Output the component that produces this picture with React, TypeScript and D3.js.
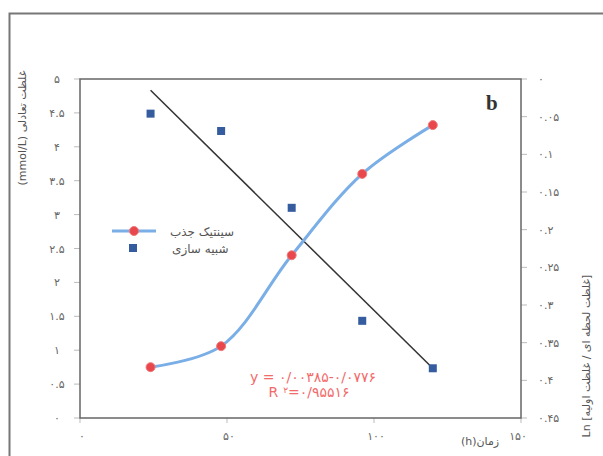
import * as d3 from "d3";

// sampling times (h)
const hours = [24, 48, 72, 96, 120];
// kinetic absorption (left axis, mmol/L)
const kinetic = [0.75, 1.06, 2.4, 3.6, 4.32];
// simulation points (right axis, Ln ratio)
const simulation = [0.046, 0.069, 0.171, 0.321, 0.384];
// fitted line end points (right axis)
const fitHours = [24, 120];
const fitValues = [0.015, 0.384];

const leftTicks = [0, 0.5, 1, 1.5, 2, 2.5, 3, 3.5, 4, 4.5, 5];
const rightTicks = [0, 0.05, 0.1, 0.15, 0.2, 0.25, 0.3, 0.35, 0.4, 0.45];
const xTicks = [0, 50, 100, 150];

const faDigits = "۰۱۲۳۴۵۶۷۸۹";
const fa = (v: number) =>
  String(+v.toFixed(2)).replace(/[0-9]/g, (c) => faDigits[+c]);

const W = 603;
const H = 456;
const plot = { left: 80, top: 79, right: 521, bottom: 418 };
const FONT = "'DejaVu Sans', sans-serif";

export default function App() {
  const x = d3.scaleLinear().domain([0, 150]).range([plot.left, plot.right]);
  const yL = d3.scaleLinear().domain([0, 5]).range([plot.bottom, plot.top]);
  const yR = d3.scaleLinear().domain([0, 0.45]).range([plot.top, plot.bottom]);

  const kinLine = d3
    .line<number>()
    .x((_, i) => x(hours[i]))
    .y((d) => yL(d))
    .curve(d3.curveCatmullRom.alpha(0.5));

  const fit = d3
    .line<number>()
    .x((_, i) => x(fitHours[i]))
    .y((d) => yR(d));

  return (
    <svg
      width={W}
      height={H}
      style={{ position: "absolute", left: 0, top: 0, background: "#fff" }}
      fontFamily={FONT}
    >
      {/* outer frame */}
      <rect x={9.5} y={13.5} width={W} height={H} fill="none" stroke="#777" strokeWidth={2} />

      {/* tick marks */}
      {leftTicks.map((t) => (
        <line key={"lt" + t} x1={plot.left - 6} x2={plot.left} y1={yL(t)} y2={yL(t)} stroke="#bbb" />
      ))}
      {rightTicks.map((t) => (
        <line key={"rt" + t} x1={plot.right} x2={plot.right + 6} y1={yR(t)} y2={yR(t)} stroke="#bbb" />
      ))}
      {xTicks.map((t) => (
        <line key={"xt" + t} x1={x(t)} x2={x(t)} y1={plot.bottom} y2={plot.bottom + 5} stroke="#bbb" />
      ))}

      {/* plot border */}
      <rect
        x={plot.left}
        y={plot.top}
        width={plot.right - plot.left}
        height={plot.bottom - plot.top}
        fill="none"
        stroke="#666"
        strokeWidth={1.5}
      />

      {/* tick labels */}
      {leftTicks.map((t) => (
        <text key={"ll" + t} x={57} y={yL(t) + 4} fontSize={11} fill="#666" textAnchor="middle" letterSpacing={1}>
          {fa(t)}
        </text>
      ))}
      {rightTicks.map((t) => (
        <text key={"rl" + t} x={538} y={yR(t) + 4} fontSize={11} fill="#666" letterSpacing={1.5}>
          {fa(t)}
        </text>
      ))}
      {xTicks.map((t) => (
        <text key={"xl" + t} x={x(t) + (t === 150 ? -3 : 2)} y={440} fontSize={11} fill="#666" textAnchor="middle" letterSpacing={1.5}>
          {fa(t)}
        </text>
      ))}

      {/* axis titles */}
      <text x={480} y={445} fontSize={11} fill="#555" textAnchor="middle">
        (h)زمان
      </text>
      <text
        transform="translate(26,128) rotate(-90)"
        fontSize={11}
        fill="#555"
        textAnchor="middle"
      >
        (mmol/L) غلظت تعادلی
      </text>
      <text
        transform="translate(590,356) rotate(-90)"
        fontSize={11}
        fill="#555"
        textAnchor="middle"
      >
        Ln [غلظت لحظه ای / غلظت اولیه]
      </text>

      {/* fit line */}
      <path d={fit(fitValues) ?? ""} fill="none" stroke="#333" strokeWidth={1.5} />

      {/* kinetic curve */}
      <path d={kinLine(kinetic) ?? ""} fill="none" stroke="#7aaee6" strokeWidth={3} />
      {kinetic.map((v, i) => (
        <circle key={"k" + i} cx={x(hours[i])} cy={yL(v)} r={4.5} fill="#e8474c" stroke="#f07a7c" strokeWidth={1} />
      ))}

      {/* simulation squares */}
      {simulation.map((v, i) => (
        <rect key={"s" + i} x={x(hours[i]) - 4} y={yR(v) - 4} width={8} height={8} fill="#345c9e" />
      ))}

      {/* legend */}
      <line x1={112} x2={156} y1={231} y2={231} stroke="#7aaee6" strokeWidth={3} />
      <circle cx={134} cy={231} r={4.5} fill="#e8474c" stroke="#f07a7c" strokeWidth={1} />
      <text x={170} y={236} fontSize={12} fill="#555">
        سینتیک جذب
      </text>
      <rect x={129} y={244} width={8} height={8} fill="#345c9e" />
      <text x={172} y={253} fontSize={12} fill="#555">
        شبیه سازی
      </text>

      {/* equation */}
      <text x={313} y={382} fontSize={14} fill="#f26b6b" textAnchor="middle" letterSpacing={4.5}>
        y=۰/۰۰۳۸۵-۰/۰۷۷۶
      </text>
      <text x={309} y={397} fontSize={14} fill="#f26b6b" textAnchor="middle" letterSpacing={5}>
        R<tspan dy={-4} fontSize={9}>۲</tspan>
        <tspan dy={4}>=۰/۹۵۵۱۶</tspan>
      </text>

      {/* panel letter */}
      <text x={486} y={110} fontSize={21} fontWeight="bold" fill="#333" fontFamily="'Liberation Serif', serif">
        b
      </text>
    </svg>
  );
}
